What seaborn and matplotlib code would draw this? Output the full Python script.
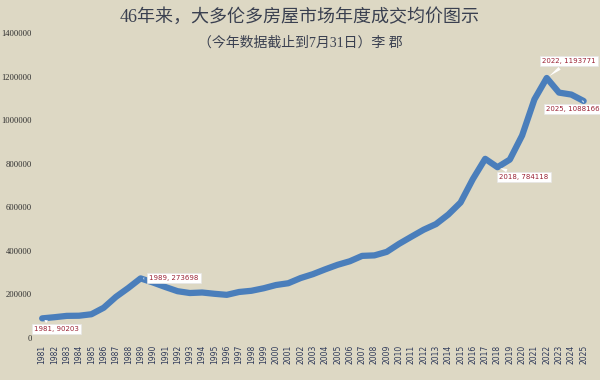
import matplotlib
matplotlib.use("Agg")
import matplotlib.pyplot as plt
import seaborn as sns
import pandas as pd

years = list(range(1981, 2026))
prices = [90203, 95496, 101626, 102318, 109094, 138925, 189105, 229635, 273698,
          255020, 234313, 214971, 206490, 208921, 203028, 198150, 211307, 216815,
          228372, 243249, 251508, 275231, 293067, 315231, 335907, 352388, 377029,
          379347, 395460, 432264, 465014, 497130, 522951, 566726, 622116, 729837,
          822681, 784118, 819153, 929636, 1095475, 1193771, 1126604, 1117600, 1088166]
callout_years = [1981, 1989, 2018, 2022, 2025]
title = "46年来，大多伦多房屋市场年度成交均价图示"
subtitle = "（今年数据截止到7月31日）李 郡"

df = pd.DataFrame({"year": years, "price": prices})

sns.set_theme(style="white")
plt.rcParams['font.family'] = ['Liberation Serif', 'Noto Sans CJK SC', 'DejaVu Sans']

bg = "#DDD8C4"
fig = plt.figure(figsize=(6, 3.8), dpi=100, facecolor=bg)
ax = fig.add_axes([0.06, 0.1105, 0.923, 0.8025])
ax.set_facecolor(bg)

sns.lineplot(data=df, x="year", y="price", ax=ax, color="#4A7EBB", linewidth=4.5,
             solid_capstyle="round", solid_joinstyle="round")

ax.set_xlim(1980.5, 2025.5)
ax.set_ylim(0, 1400000)
ax.set_xticks(years)
ax.set_xticklabels([str(y) for y in years], rotation=90, fontsize=5.5,
                   color="#2F3A5A", family=['DejaVu Sans'])
ax.set_yticks(range(0, 1400001, 200000))
ax.set_yticklabels([str(v) for v in range(0, 1400001, 200000)], fontsize=6.2,
                   color="#303030")
ax.tick_params(axis='y', length=0, pad=3)
ax.tick_params(axis='x', length=0, pad=5)
for s in ax.spines.values():
    s.set_visible(False)
ax.set_xlabel("")
ax.set_ylabel("")
ax.grid(False)

offsets = {1981: (10.5, -7.5), 1989: (24, 0), 2018: (19, -7), 2022: (16, 12), 2025: (-8, -5.5)}
for y in callout_years:
    v = prices[years.index(y)]
    dx, dy = offsets[y]
    ax.annotate(f"{y}, {v}", xy=(y, v), xytext=(dx, dy), textcoords="offset points",
                fontsize=5, color="#9B2335", family=['DejaVu Sans'],
                ha="center", va="center",
                bbox=dict(boxstyle="square,pad=0.3", fc="white", ec="#E6E6E6", lw=0.5),
                arrowprops=dict(arrowstyle="wedge,tail_width=0.5", fc="white", ec="none"))

fig.text(0.5, 0.956, title, ha="center", va="center", fontsize=13, color="#3A4050")
fig.text(0.5, 0.887, subtitle, ha="center", va="center", fontsize=10, color="#3A4050")

fig.savefig("out.png", dpi=100, facecolor=bg)
